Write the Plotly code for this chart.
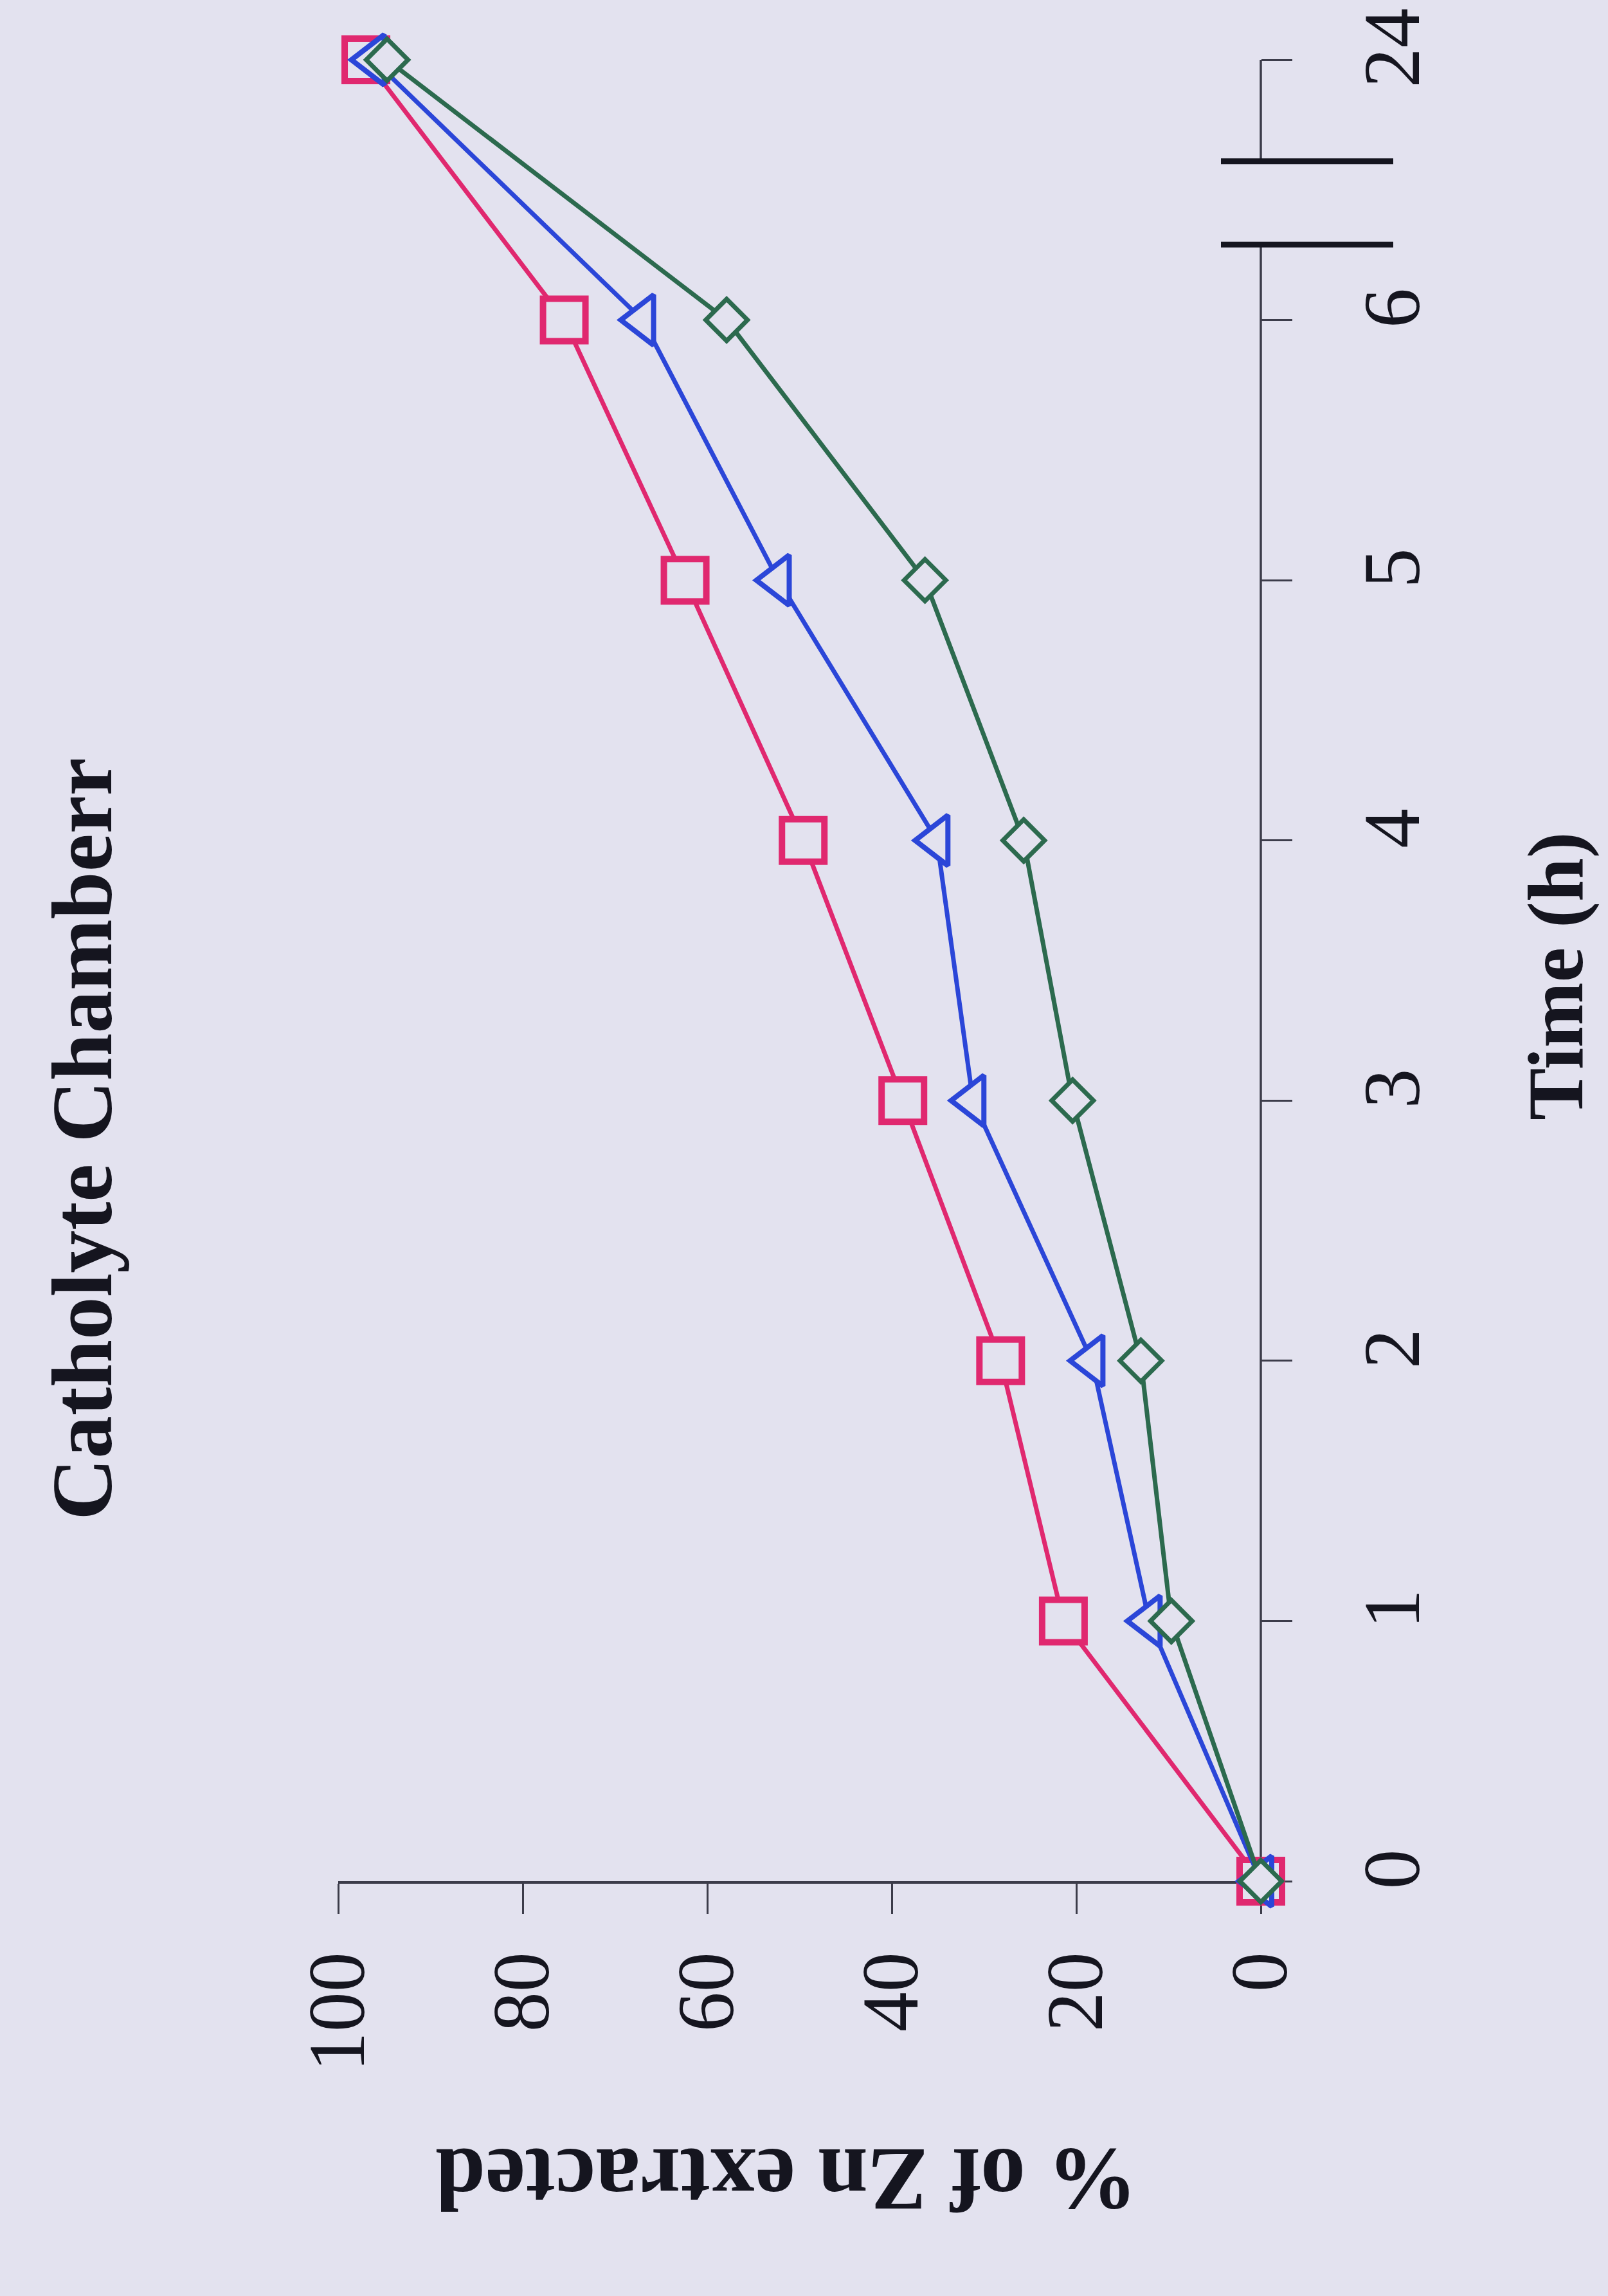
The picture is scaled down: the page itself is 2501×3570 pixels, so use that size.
import plotly.graph_objects as go

# Sampling times (h); 24 h sits one step after 6 h beyond an axis break
time_labels = ["0", "1", "2", "3", "4", "5", "6", "24"]

# % of Zn extracted for the three runs
pct_square = [0, 21.4, 28.2, 38.8, 49.6, 62.4, 75.5, 97.0]
pct_triangle = [0, 12.1, 18.3, 31.2, 35.1, 52.3, 67.0, 96.2]
pct_diamond = [0, 9.7, 13.0, 20.4, 25.7, 36.4, 57.9, 94.7]

pct_ticks = [0, 20, 40, 60, 80, 100]

BG = "#E3E2EF"
AXIS = "#3C3C4A"
INK = "#15151F"
SERIF = "Liberation Serif"

W, H = 2501, 3570
L, R, T, B = 526, 540, 91, 645
PW, PH = W - L - R, H - T - B


def px_x(px):
    return (px - L) / PW


def px_y(py):
    return (H - B - py) / PH


fig = go.Figure()

series = [
    (pct_square, "#E0286F", "square", 66, 10),
    (pct_triangle, "#2B46D8", "triangle-left", 68, 8),
    (pct_diamond, "#2C6A4E", "diamond", 50, 7),
]
for vals, color, sym, size, lw in series:
    fig.add_trace(go.Scatter(
        x=vals, y=time_labels, mode="lines+markers",
        line=dict(color=color, width=7),
        marker=dict(symbol=sym, size=size, color=BG,
                    line=dict(color=color, width=lw)),
        cliponaxis=False, showlegend=False,
    ))

fig.update_layout(
    width=W, height=H, autosize=False,
    margin=dict(l=L, r=R, t=T, b=B, pad=0),
    paper_bgcolor=BG, plot_bgcolor=BG,
    font=dict(family=SERIF, color=INK),
    xaxis=dict(
        range=[100, 0], tickvals=pct_ticks, ticktext=[str(v) for v in pct_ticks],
        ticks="outside", ticklen=47, tickwidth=3, tickcolor=AXIS,
        showline=True, linewidth=3.5, linecolor=AXIS,
        showgrid=False, zeroline=False, tickangle=-90,
        tickfont=dict(family=SERIF, size=124, color=INK),
        ticklabelstandoff=10, layer="below traces",
    ),
    yaxis=dict(
        type="category", categoryorder="array", categoryarray=time_labels,
        range=[0, 7], side="right",
        ticks="outside", ticklen=48, tickwidth=3, tickcolor=AXIS,
        showline=False, showgrid=False, zeroline=False, tickangle=-90,
        tickfont=dict(family=SERIF, size=124, color=INK),
        ticklabelstandoff=48, layer="below traces",
    ),
)

# Time axis drawn in two pieces with a break between 6 h and 24 h
brk_lo, brk_hi = 6.29, 6.61
for y0, y1 in [(0, brk_lo), (brk_hi, 7)]:
    fig.add_shape(type="line", xref="paper", yref="y", x0=1, x1=1,
                  y0=y0, y1=y1, line=dict(color=AXIS, width=3.5), layer="below")
for yb in (brk_lo, brk_hi):
    fig.add_shape(type="line", xref="paper", yref="y",
                  x0=px_x(1899), x1=px_x(2167), y0=yb, y1=yb,
                  line=dict(color=INK, width=9))

fig.add_annotation(text="<b>Catholyte Chamberr</b>", xref="paper", yref="paper",
                   x=px_x(128), y=px_y(1770), xanchor="center", yanchor="middle",
                   textangle=-90, showarrow=False,
                   font=dict(family=SERIF, size=133, color=INK))
fig.add_annotation(text="<b>Time (h)</b>", xref="paper", yref="paper",
                   x=px_x(2420), y=px_y(1517), xanchor="center", yanchor="middle",
                   textangle=-90, showarrow=False,
                   font=dict(family=SERIF, size=122, color=INK))
fig.add_annotation(text="<b>% of Zn extracted</b>", xref="paper", yref="paper",
                   x=px_x(1224), y=px_y(3390), xanchor="center", yanchor="middle",
                   textangle=180, showarrow=False,
                   font=dict(family=SERIF, size=140, color=INK))

fig.write_html("out.html")
